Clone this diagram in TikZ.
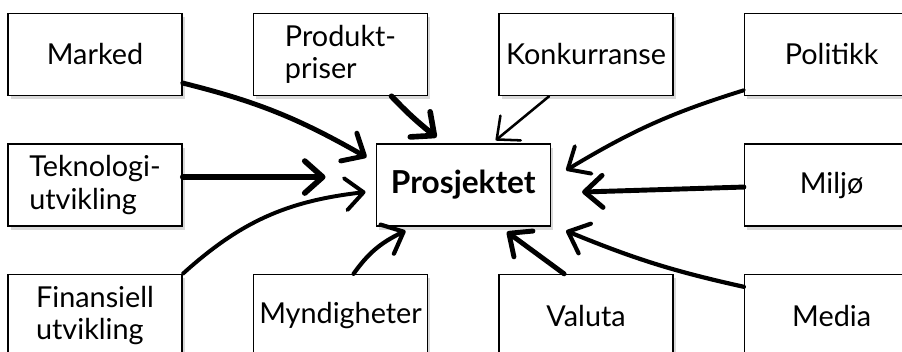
\documentclass[tikz,border=0pt]{standalone}
\usepackage{fontspec}
\setmainfont{Lato}
\usetikzlibrary{positioning,calc,shadows,arrows.meta,bending}

\begin{document}
\begin{tikzpicture}[
       node distance=1.175cm and 1.75cm,
       box/.style={rectangle, draw=black, line width=1.1pt, minimum width=4.35cm, minimum height=2.05cm, align=left, fill=white, font=\fontsize{20.5}{21}\selectfont, drop shadow={shadow xshift=2pt, shadow yshift=-2.5pt, opacity=0.3}},
       arrow/.style={-{Straight Barb[length=4.5mm, width=8mm, round]}, line cap=round, black}
   ]
   \useasboundingbox (0,0) rectangle (22.55,-8.775);
   \node[box] (marked) at (2.375,-1.3625) {Marked};
   \node[box, right=of marked] (priser) {Produkt-\\[2pt]priser};
   \node[box, right=of priser] (konk) {Konkurranse};
   \node[box, right=of konk] (politikk) {Politikk};
   \node[box, below=of marked] (tekno) {Teknologi-\\[2pt]utvikling};
   \node[box, below=of politikk] (miljo) {Miljø};
   \node[box, below=of tekno] (finans) {Finansiell\\[2pt]utvikling};
   \node[box, right=of finans] (myndig) {Myndigheter};
   \node[box, right=of myndig] (valuta) {Valuta};
   \node[box, right=of valuta] (media) {Media};
   \node[box, font=\fontsize{22.5}{24}\selectfont\bfseries] (prosj) at ($(tekno)!0.5!(miljo)$) {Prosjektet};

   \draw[arrow, line width=3.5pt] ([yshift=0.33cm]marked.south east) to[bend left=8] ([xshift=-0.225cm,yshift=-0.35cm]prosj.north west);
   \draw[arrow, line width=4pt] ([xshift=1.275cm]priser.south) to[bend right=4] ([xshift=1.525cm,yshift=0.15cm]prosj.north west);
   \draw[arrow, line width=1.8pt] ([xshift=-0.925cm]konk.south) -- ([xshift=0.81cm,yshift=0.075cm]prosj.north);
   \draw[arrow, line width=2.8pt] ([yshift=0.15cm]politikk.south west) to[bend right=7] ([xshift=0.375cm,yshift=-0.675cm]prosj.north east);
   \draw[arrow, line width=4pt] ([yshift=0.2cm]tekno.east) -- ([xshift=-1.25cm,yshift=0.2cm]prosj.west);
   \draw[arrow, line width=2.8pt] (finans.north east) to[bend left=18] ([xshift=-0.25cm,yshift=-0.175cm]prosj.west);
   \draw[arrow, line width=3pt] ([xshift=0.325cm]myndig.north) to[bend left=15] ([xshift=0.75cm,yshift=-0.1cm]prosj.south west);
   \draw[arrow, line width=3.5pt] ([yshift=-0.05cm]miljo.west) -- ([xshift=0.775cm,yshift=-0.175cm]prosj.east);
   \draw[arrow, line width=3.5pt] ([xshift=-0.55cm]valuta.north) -- ([xshift=1.09cm,yshift=-0.125cm]prosj.south);
   \draw[arrow, line width=3pt] ([yshift=-0.325cm]media.north west) to[bend left=5] ([xshift=0.375cm,yshift=-0.1cm]prosj.south east);
\end{tikzpicture}
\end{document}
